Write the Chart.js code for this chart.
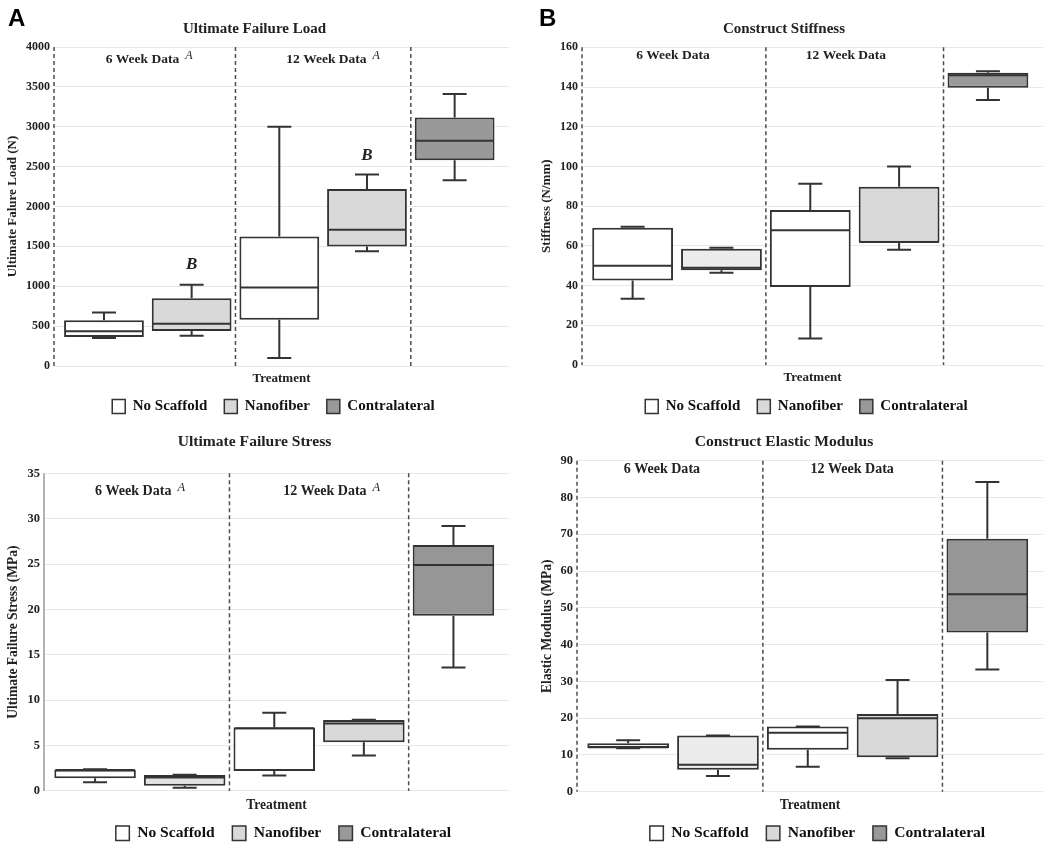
<!DOCTYPE html>
<html>
<head>
<meta charset="utf-8">
<script src="https://cdn.jsdelivr.net/npm/chart.js@4.4.1/dist/chart.umd.min.js"></script>
<style>
  html, body { margin: 0; padding: 0; background: #fff; overflow: hidden; }
  body { position: relative; width: 1050px; height: 848px; }
  canvas { position: absolute; }
  .tag { position: absolute; top: 6px; font: bold 24px/1 "Liberation Sans", Arial, sans-serif; color: #000; }
</style>
</head>
<body>
<canvas id="load" width="525" height="424" style="left:0;top:0"></canvas>
<canvas id="stiff" width="525" height="424" style="left:525px;top:0"></canvas>
<canvas id="stress" width="525" height="427" style="left:0;top:424px"></canvas>
<canvas id="modulus" width="525" height="427" style="left:525px;top:424px"></canvas>
<div class="tag" style="left:8px">A</div>
<div class="tag" style="left:539px">B</div>
<script>
const SERIF = '"Liberation Serif", "Times New Roman", serif';
const INK = '#222';

// groups along the x axis: 6wk NS, 6wk NF, 12wk NS, 12wk NF, contralateral
const groupPos = [0, 1, 2, 3, 4];
const groupSeries = [0, 1, 0, 1, 2];
const seriesNames = ['No Scaffold', 'Nanofiber', 'Contralateral'];
const seriesFill = ['#ffffff', '#d9d9d9', '#999999'];
const sectionNames = ['6 Week Data', '12 Week Data'];
const dividerPos = [1.5, 3.5];

// Ultimate failure load (N)
const loadMin = [350, 380, 100, 1440, 2330];
const loadQ1  = [365, 440, 580, 1500, 2580];
const loadMed = [435, 530, 985, 1710, 2825];
const loadQ3  = [575, 850, 1625, 2220, 3115];
const loadMax = [670, 1020, 3000, 2400, 3410];
const loadFill = ['#ffffff', '#d9d9d9', '#ffffff', '#d9d9d9', '#999999'];

// Construct stiffness (N/mm)
const stiffMin = [33.4, 46.5, 13.3, 58.1, 133.4];
const stiffQ1  = [42.5, 47.7, 39.3, 61.6, 139.6];
const stiffMed = [50.0, 49.0, 67.8, 62.0, 145.9];
const stiffQ3  = [69.1, 58.6, 78.0, 89.8, 147.2];
const stiffMax = [69.6, 59.1, 91.3, 100.0, 148.0];
const stiffFill = ['#ffffff', '#ececec', '#ffffff', '#d9d9d9', '#999999'];

// Ultimate failure stress (MPa)
const stressMin = [0.96, 0.36, 1.7, 3.9, 13.6];
const stressQ1  = [1.4, 0.58, 2.2, 5.36, 19.3];
const stressMed = [2.3, 1.5, 6.9, 7.45, 24.9];
const stressQ3  = [2.35, 1.76, 7.0, 7.82, 27.1];
const stressMax = [2.4, 1.8, 8.63, 7.85, 29.2];
const stressFill = ['#ffffff', '#e3e3e3', '#ffffff', '#d9d9d9', '#969696'];

// Elastic modulus (MPa)
const modMin = [11.8, 4.3, 6.8, 9.1, 33.2];
const modQ1  = [11.9, 6.0, 11.4, 9.4, 43.3];
const modMed = [12.1, 7.3, 16.0, 20.0, 53.7];
const modQ3  = [13.2, 15.3, 17.7, 21.1, 68.8];
const modMax = [14.0, 15.3, 17.7, 30.4, 84.2];
const modFill = ['#ffffff', '#ececec', '#ffffff', '#d9d9d9', '#969696'];

const BAR_PCT = 0.91;

function boxPlugin(p) {
  const k = p.fontScale;
  return {
    id: 'boxes',
    afterLayout(chart) {
      // nudge the legend row sideways to sit where the original does
      chart.legend.left += p.legendShift;
      chart.legend.right += p.legendShift;
    },
    beforeDatasetsDraw(chart) {
      const {ctx, chartArea: a, scales: {x, y}} = chart;
      ctx.save();
      // left axis + section dividers
      if (p.dashedAxis) {
        ctx.strokeStyle = '#4d4d4d'; ctx.lineWidth = 1.5; ctx.setLineDash([4, 3]);
      } else {
        ctx.strokeStyle = '#9a9a9a'; ctx.lineWidth = 1.5;
      }
      ctx.beginPath(); ctx.moveTo(a.left, a.top); ctx.lineTo(a.left, a.bottom); ctx.stroke();
      ctx.strokeStyle = '#4d4d4d'; ctx.setLineDash([4, 3]);
      dividerPos.forEach(v => {
        const px = x.getPixelForValue(v);
        ctx.beginPath(); ctx.moveTo(px, a.top); ctx.lineTo(px, a.bottom); ctx.stroke();
      });
      ctx.setLineDash([]);
      ctx.strokeStyle = '#333'; ctx.lineWidth = 2;
      groupPos.forEach(i => {
        const cx = x.getPixelForValue(i);
        const lo = y.getPixelForValue(p.min[i]), q1 = y.getPixelForValue(p.q1[i]);
        const q3 = y.getPixelForValue(p.q3[i]), hi = y.getPixelForValue(p.max[i]);
        ctx.beginPath();
        ctx.moveTo(cx, q3); ctx.lineTo(cx, hi);
        ctx.moveTo(cx - 12, hi); ctx.lineTo(cx + 12, hi);
        ctx.moveTo(cx, q1); ctx.lineTo(cx, lo);
        ctx.moveTo(cx - 12, lo); ctx.lineTo(cx + 12, lo);
        ctx.stroke();
      });
      ctx.restore();
    },
    afterDatasetsDraw(chart) {
      const {ctx, chartArea: a, scales: {x, y}} = chart;
      const half = (x.getPixelForValue(1) - x.getPixelForValue(0)) * BAR_PCT / 2 - 1;
      ctx.save();
      ctx.strokeStyle = '#333'; ctx.lineWidth = 2;
      groupPos.forEach(i => {
        const cx = x.getPixelForValue(i), m = y.getPixelForValue(p.med[i]);
        ctx.beginPath(); ctx.moveTo(cx - half, m); ctx.lineTo(cx + half, m); ctx.stroke();
      });
      // section headers
      ctx.fillStyle = INK; ctx.textBaseline = 'middle'; ctx.textAlign = 'left';
      const ty = a.top + p.headerOffset;
      sectionNames.forEach((t, j) => {
        const tx = x.getPixelForValue(p.headerX[j]);
        ctx.font = `bold ${13.5 * k}px ${SERIF}`;
        ctx.fillText(t, tx, ty);
        if (p.headerSup) {
          const w = ctx.measureText(t).width;
          ctx.font = `italic ${12 * k}px ${SERIF}`;
          ctx.fillText(p.headerSup, tx + w + 6, ty - 4);
        }
      });
      // significance letters
      ctx.textAlign = 'center';
      ctx.font = `bold italic 17px ${SERIF}`;
      (p.letters || []).forEach(l => {
        ctx.fillText(l.text, x.getPixelForValue(l.x), y.getPixelForValue(l.y));
      });
      ctx.restore();
    }
  };
}

function makePanel(id, p) {
  const k = p.fontScale;
  const datasets = seriesNames.map((name, s) => ({
    label: name,
    data: groupPos.filter(i => groupSeries[i] === s).map(i => ({x: i, y: [p.q1[i], p.q3[i]]})),
    backgroundColor: c => (c.type === 'data' && c.raw) ? p.fill[c.raw.x] : seriesFill[s],
    borderColor: '#333',
    borderWidth: 2,
    borderSkipped: false,
    grouped: false,
    categoryPercentage: 1,
    barPercentage: BAR_PCT
  }));
  const bold = size => ({family: SERIF, size: size * k, weight: 'bold'});
  return new Chart(document.getElementById(id), {
    type: 'bar',
    data: {datasets},
    plugins: [boxPlugin(p)],
    options: {
      responsive: false,
      animation: false,
      layout: {padding: {left: 0, right: p.padRight, top: 0, bottom: 0}},
      plugins: {
        tooltip: {enabled: false},
        title: {display: true, text: p.title, color: INK, font: bold(15), padding: p.titlePad},
        legend: {
          position: 'bottom',
          fullSize: false,
          labels: {
            boxWidth: 13 * k, boxHeight: 14 * k, padding: 17 * k, color: '#111', font: bold(15),
            generateLabels: chart => Chart.defaults.plugins.legend.labels.generateLabels(chart)
              .map((it, j) => ({...it, fillStyle: seriesFill[j], lineWidth: 1.5}))
          }
        }
      },
      scales: {
        x: {
          type: 'linear', min: -0.57, max: 4.62, offset: false,
          ticks: {display: false, stepSize: 1, includeBounds: false},
          grid: {display: false, drawTicks: false, offset: false},
          border: {display: false},
          title: {display: true, text: 'Treatment', color: INK, font: bold(13), padding: p.xTitlePad}
        },
        y: {
          min: 0, max: p.yMax,
          ticks: {stepSize: p.yStep, padding: 4, color: INK, font: bold(12), callback: v => String(v)},
          grid: {color: '#e8e8e8', drawTicks: false},
          border: {display: false},
          title: {display: true, text: p.yTitle, color: INK, font: bold(13), padding: {top: p.yTitlePad, bottom: 0}},
          afterFit: s => { s.width = p.yWidth; }
        }
      }
    }
  });
}

makePanel('load', {
  title: 'Ultimate Failure Load', yTitle: 'Ultimate Falure Load (N)', yMax: 4000, yStep: 500,
  min: loadMin, q1: loadQ1, med: loadMed, q3: loadQ3, max: loadMax, fill: loadFill,
  fontScale: 1, legendShift: -8,
  titlePad: {top: 20, bottom: 9}, xTitlePad: {top: 5.2, bottom: -4.8},
  yWidth: 54, yTitlePad: 5.2, padRight: 16, dashedAxis: true,
  headerOffset: 13, headerX: [0.02, 2.08], headerSup: 'A',
  letters: [{text: 'B', x: 1, y: 1270}, {text: 'B', x: 3, y: 2640}]
});

makePanel('stiff', {
  title: 'Construct Stiffness', yTitle: 'Stiffness (N/mm)', yMax: 160, yStep: 20,
  min: stiffMin, q1: stiffQ1, med: stiffMed, q3: stiffQ3, max: stiffMax, fill: stiffFill,
  fontScale: 1, legendShift: -6,
  titlePad: {top: 20, bottom: 9.3}, xTitlePad: {top: 4.9, bottom: -3.5},
  yWidth: 57, yTitlePad: 13.9, padRight: 7, dashedAxis: true,
  headerOffset: 8.4, headerX: [0.04, 1.95], headerSup: ''
});

makePanel('stress', {
  title: 'Ultimate Failure Stress', yTitle: 'Ultimate Failure Stress (MPa)', yMax: 35, yStep: 5,
  min: stressMin, q1: stressQ1, med: stressMed, q3: stressQ3, max: stressMax, fill: stressFill,
  fontScale: 1.04, legendShift: 7,
  titlePad: {top: 8.3, bottom: 22.3}, xTitlePad: {top: 6.6, bottom: -6.1},
  yWidth: 44, yTitlePad: 4.9, padRight: 16, dashedAxis: false,
  headerOffset: 18.4, headerX: [0.0, 2.1], headerSup: 'A'
});

makePanel('modulus', {
  title: 'Construct Elastic Modulus', yTitle: 'Elastic Modulus (MPa)', yMax: 90, yStep: 10,
  min: modMin, q1: modQ1, med: modMed, q3: modQ3, max: modMax, fill: modFill,
  fontScale: 1.04, legendShift: 7.5,
  titlePad: {top: 8.3, bottom: 9.7}, xTitlePad: {top: 5.9, bottom: -6.1},
  yWidth: 52, yTitlePad: 14.6, padRight: 7, dashedAxis: true,
  headerOffset: 8.6, headerX: [-0.05, 2.03], headerSup: ''
});
</script>
</body>
</html>
